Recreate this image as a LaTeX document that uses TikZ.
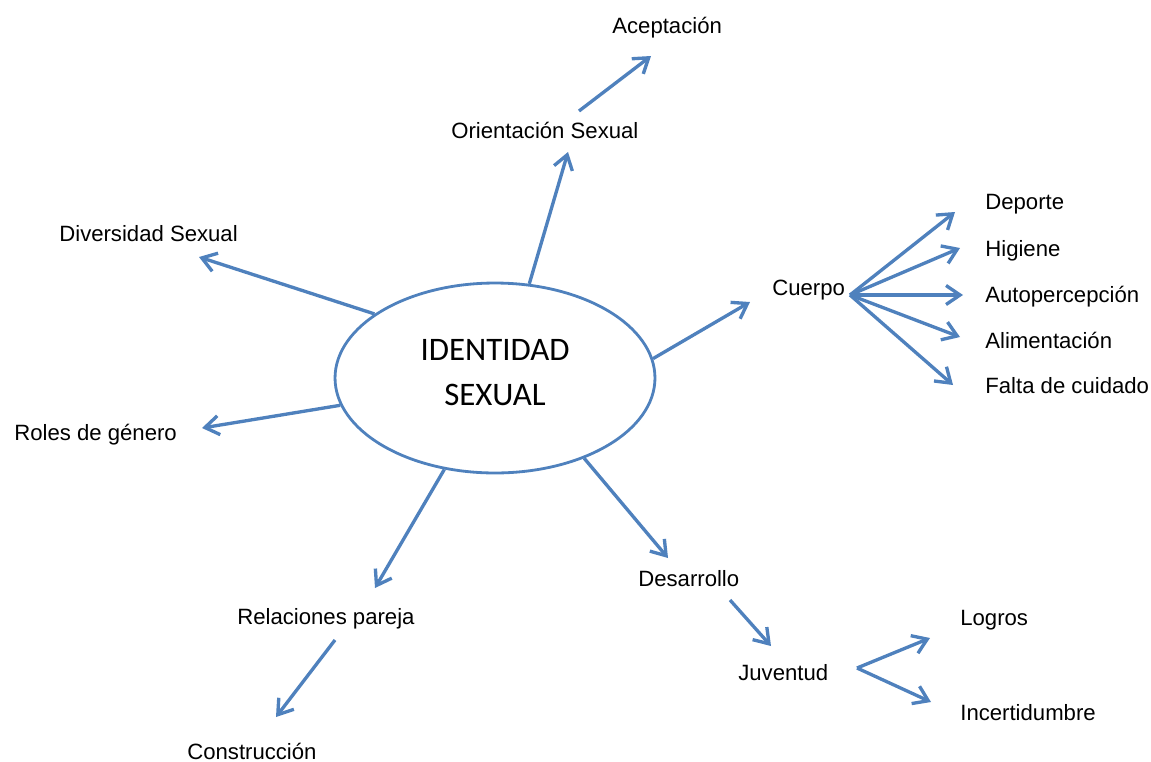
\documentclass[tikz,border=0pt]{standalone}
\usepackage{fontspec}
\setmainfont{Liberation Sans}
\newfontfamily\calibrifont{Carlito}
\usepackage{tikz}
\usetikzlibrary{arrows.meta}
\usetikzlibrary{calc}
\usetikzlibrary{shapes.geometric}
\definecolor{mapblue}{RGB}{79,129,189}

\begin{document}
\begin{tikzpicture}[x=0.02cm,y=-0.02cm,
  lbl/.style={anchor=base west,inner sep=0pt,font=\fontsize{12.6}{14}\selectfont},
  conn/.style={draw=mapblue,line width=1.9pt,-{Straight Barb[length=2.8mm,width=3.8mm]}}]
\useasboundingbox (0,0) rectangle (1151,761);
\node[ellipse,draw=mapblue,line width=1.6pt,minimum width=6.4cm,minimum height=3.8cm,
  inner sep=0pt,align=center,font=\calibrifont\fontsize{18.7}{26}\selectfont]
  (id) at (495,378) {IDENTIDAD\\SEXUAL\vspace*{6pt}};
% labels, placed at their baselines
\foreach \n/\x/\y/\t in {acep/612/33/Aceptación, ori/451/138/Orientación Sexual,
    div/59/241/Diversidad Sexual, roles/14/440/Roles de género, cue/772/295/Cuerpo,
    dep/985/209/Deporte, hig/985/256/Higiene, aut/985/302/Autopercepción,
    ali/985/348/Alimentación, fal/985/393/Falta de cuidado, des/638/586/Desarrollo,
    rel/237/624/Relaciones pareja, juv/738/680/Juventud, log/960/625/Logros,
    inc/960/720/Incertidumbre, con/187/759/Construcción}
  \node[lbl] (\n) at (\x,\y) {\t};
% from the ellipse
\draw[conn] (id.70) -- ($(ori.base west)+(117,14)$);
\draw[conn] (id.152) -- ($(div.base west)+(140,16)$);
\draw[conn] (id.190) -- ($(roles.base west)+(188,-12)$);
\draw[conn] (id.7) -- ($(cue.base west)+(-22,7)$);
\draw[conn] (id.318) -- ($(des.base west)+(30,-28)$);
\draw[conn] (id.241) -- ($(rel.base west)+(138,-36)$);
% between labels
\draw[conn] ($(ori.base west)+(128,-27)$) -- ($(acep.base west)+(39,23)$);
\draw[conn] ($(des.base west)+(92,14)$) -- ($(juv.base west)+(33,-34)$);
\draw[conn] ($(rel.base west)+(98,16)$) -- ($(con.base west)+(89,-42)$);
\foreach \n/\dx/\dy in {dep/-30/3, hig/-25/-8, aut/-22/-7, ali/-25/-11, fal/-32/-8}
  \draw[conn] ($(cue.base west)+(78,0)$) -- ($(\n.base west)+(\dx,\dy)$);
\foreach \n/\dx/\dy in {log/-30/13, inc/-29/-18}
  \draw[conn] ($(juv.base west)+(119,-12)$) -- ($(\n.base west)+(\dx,\dy)$);
\end{tikzpicture}
\end{document}
